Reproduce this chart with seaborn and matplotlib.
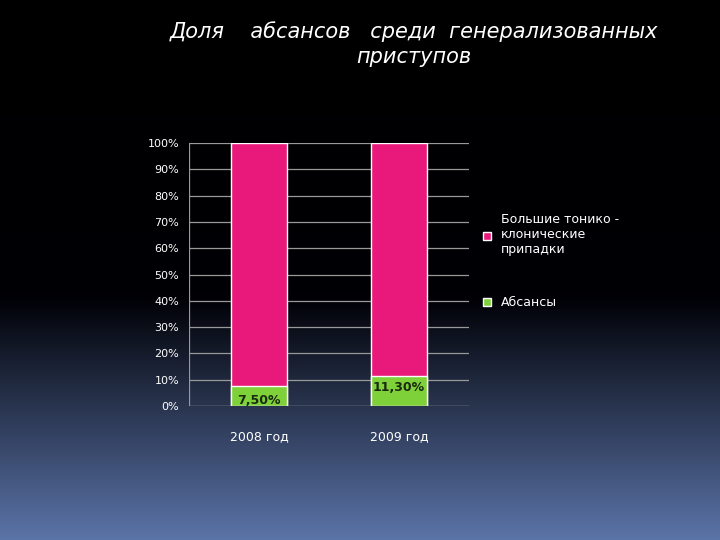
import numpy as np
import pandas as pd
import matplotlib
matplotlib.use("Agg")
import matplotlib.pyplot as plt
import seaborn as sns

years = ["2008 год", "2009 год"]
absans = [7.5, 11.3]
gtkp = [92.5, 88.7]
labels = ["7,50%", "11,30%"]
yticks = [0, 10, 20, 30, 40, 50, 60, 70, 80, 90, 100]

sns.set_style("dark")
plt.rcParams['font.family'] = ['DejaVu Sans']

fig = plt.figure(figsize=(7.2, 5.4), dpi=100)
bg = fig.add_axes([0, 0, 1, 1], zorder=-10)
h = 540
t = np.linspace(0, 1, h)
r = np.interp(t, [0, 0.55, 1], [0, 0.0, 0x5b/255])
g = np.interp(t, [0, 0.55, 1], [0, 0.0, 0x74/255])
b = np.interp(t, [0, 0.55, 1], [0, 0.02, 0xa8/255])
img = np.stack([r, g, b], axis=1)[:, None, :].repeat(2, axis=1)
bg.imshow(img, aspect="auto", extent=[0, 1, 0, 1], origin="upper")
bg.axis("off")

ax = fig.add_axes([0.2625, 0.248, 0.3889, 0.487])
ax.set_facecolor("none")
df = pd.DataFrame({"year": years, "abs": absans, "tot": [a + b for a, b in zip(absans, gtkp)]})
sns.barplot(data=df, x="year", y="tot", color="#e8197a", width=0.4, ax=ax, saturation=1,
            label="Большие тонико -\nклонические\nприпадки")
sns.barplot(data=df, x="year", y="abs", color="#7fd13a", width=0.4, ax=ax, saturation=1,
            label="Абсансы")
for i, (v, lab) in enumerate(zip(absans, labels)):
    ax.text(i, v / 2 + (1.5 if i else -1.8), lab, ha="center", va="center", fontsize=9,
            fontweight="bold", color="#1a2a10")
ax.set_ylim(0, 100)
ax.set_xlim(-0.5, 1.5)
ax.set_yticks(yticks)
ax.set_yticklabels([f"{v}%" for v in yticks], color="white", fontsize=8)
ax.tick_params(axis="x", colors="white", labelsize=9, pad=14)
ax.set_xlabel("")
ax.set_ylabel("")
ax.grid(axis="y", color="#999999", linewidth=0.9)
ax.set_axisbelow(True)
for s in ax.spines.values():
    s.set_visible(False)
ax.axhline(0, color="#999999", linewidth=0.9)
ax.axvline(-0.5, color="#999999", linewidth=0.9)

handles, lbls = ax.get_legend_handles_labels()
leg = ax.legend(handles, lbls, loc="center left", bbox_to_anchor=(1.01, 0.55),
                frameon=False, fontsize=9, labelcolor="white", handlelength=0.6,
                handleheight=0.6, labelspacing=3.2)

fig.text(0.575, 0.96, "Доля    абсансов   среди  генерализованных\nприступов",
         ha="center", va="top", color="white", fontsize=15, style="italic",
         linespacing=1.3)
fig.savefig("out.png", dpi=100, facecolor="black")
